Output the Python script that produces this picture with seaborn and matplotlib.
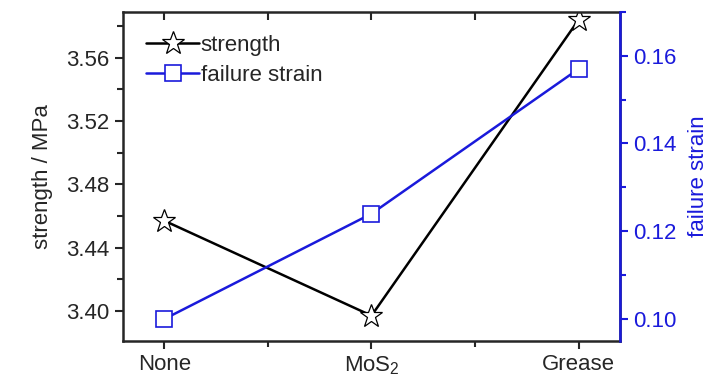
import matplotlib
matplotlib.use("Agg")
import matplotlib.pyplot as plt
import seaborn as sns
import pandas as pd
from matplotlib.ticker import MultipleLocator, FixedLocator, FormatStrFormatter
from matplotlib.lines import Line2D

sns.set_style("ticks")
plt.rcParams['font.family'] = ['Liberation Sans Narrow', 'Liberation Sans', 'DejaVu Sans']
plt.rcParams['mathtext.fontset'] = 'custom'
plt.rcParams['mathtext.rm'] = 'Liberation Sans'

categories = ["None", "MoS$_2$", "Grease"]
strength = [3.457, 3.397, 3.584]
failure_strain = [0.100, 0.124, 0.157]

df = pd.DataFrame({"x": range(len(categories)), "strength": strength, "failure": failure_strain})

blue = "#1a1adb"
fig = plt.figure(figsize=(7.27, 3.81), dpi=100)
ax = fig.add_axes([0.169, 0.105, 0.684, 0.864])
ax2 = ax.twinx()

sns.lineplot(data=df, x="x", y="strength", ax=ax, color="black", lw=1.8,
             marker="*", markersize=17, markerfacecolor="white", markeredgecolor="black",
             markeredgewidth=0.9)
sns.lineplot(data=df, x="x", y="failure", ax=ax2, color=blue, lw=1.8,
             marker="s", markersize=12, markerfacecolor="white", markeredgecolor=blue,
             markeredgewidth=1.2)

ax.set_xlim(-0.2, 2.2)
ax.set_ylim(3.381, 3.589)
ax2.set_ylim(0.095, 0.170)

ax.set_xticks(range(len(categories)))
ax.set_xticklabels(categories)
ax.xaxis.set_minor_locator(FixedLocator([0.5, 1.5]))
ax.yaxis.set_major_locator(MultipleLocator(0.04))
ax.yaxis.set_minor_locator(MultipleLocator(0.02))
ax.yaxis.set_major_formatter(FormatStrFormatter('%.2f'))
ax2.yaxis.set_major_locator(MultipleLocator(0.02))
ax2.yaxis.set_minor_locator(MultipleLocator(0.01))
ax2.yaxis.set_major_formatter(FormatStrFormatter('%.2f'))

for s in ax.spines.values():
    s.set_linewidth(1.8)
ax2.spines['right'].set_linewidth(1.8)
ax2.spines['right'].set_color(blue)
for k in ['left', 'top', 'bottom']:
    ax2.spines[k].set_visible(False)

ax.tick_params(axis='both', which='major', labelsize=16, length=6, width=1.5, direction='out')
ax.tick_params(axis='both', which='minor', length=4, width=1.5, direction='out')
ax.tick_params(axis='y', right=False, which='both')
ax.tick_params(axis='x', which='both', top=False)
ax2.tick_params(axis='y', which='major', labelsize=16, length=6, width=1.5, colors=blue, direction='out')
ax2.tick_params(axis='y', which='minor', length=4, width=1.5, colors=blue, direction='out')

secx = ax.secondary_xaxis('top')
secx.set_xticks(range(len(categories)))
secx.set_xticklabels([])
secx.xaxis.set_minor_locator(FixedLocator([0.5, 1.5]))
secx.tick_params(axis='x', which='both', direction='in', length=6, width=1.5, labeltop=False)
secx.spines['top'].set_visible(False)

ax.set_xlabel("")
ax.set_ylabel("strength / MPa", fontsize=16, labelpad=10)
ax2.set_ylabel("failure strain", fontsize=16, color=blue, labelpad=8)

handles = [
    Line2D([], [], color="black", lw=1.8, marker="*", markersize=17, markerfacecolor="white",
           markeredgecolor="black", markeredgewidth=0.9),
    Line2D([], [], color=blue, lw=1.8, marker="s", markersize=12, markerfacecolor="white",
           markeredgecolor=blue, markeredgewidth=1.2),
]
ax.legend(handles, ["strength", "failure strain"], loc="upper left", frameon=False,
          fontsize=16, handlelength=2.4, handletextpad=0.05, labelspacing=0.4,
          bbox_to_anchor=(0.02, 0.97), borderaxespad=0.2)

fig.savefig("out.png", dpi=100)
